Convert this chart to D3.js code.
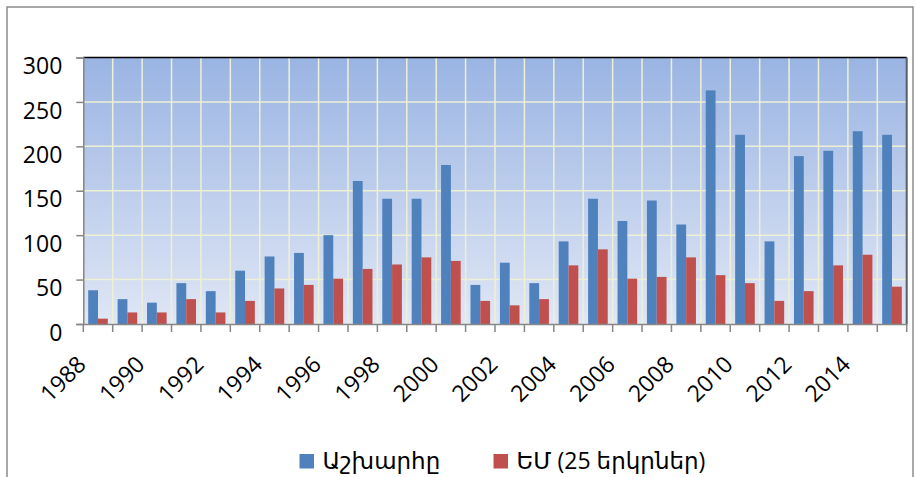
<!DOCTYPE html>
<meta charset="utf-8">
<script src="https://d3js.org/d3.v7.min.js"></script>
<style>
  body { margin: 0; background: #fff; }
  text { font-family: "Open Sans", "DejaVu Sans", sans-serif; fill: #000; }
</style>
<div id="chart"></div>
<script>
// Data
var years = d3.range(1988, 2016).map(String);
var seriesNames = ["Աշխարհը", "ԵՄ (25 երկրներ)"];
var world = [38, 28, 24, 46, 37, 60, 76, 80, 100, 161, 141, 141, 179, 44, 69, 46, 93, 141, 116, 139, 112, 263, 213, 93, 189, 195, 217, 213];
var eu    = [6, 13, 13, 28, 13, 26, 40, 44, 51, 62, 67, 75, 71, 26, 21, 28, 66, 84, 51, 53, 75, 55, 46, 26, 37, 66, 78, 42];
var yTicks = [0, 50, 100, 150, 200, 250, 300];
var colors = ["#4f81bd", "#c0504d"];

var W = 915, H = 477;
var plot = {left: 83.3, right: 906.7, top: 57.5, bottom: 324};

var svg = d3.select("#chart").append("svg")
    .attr("width", W)
    .attr("height", H);

// outer frame
svg.append("rect")
    .attr("x", 7).attr("y", 7)
    .attr("width", 906).attr("height", 520)
    .attr("fill", "none")
    .attr("stroke", "#8c8c8c")
    .attr("stroke-width", 1.5);

// background gradient
var grad = svg.append("defs").append("linearGradient")
    .attr("id", "bg")
    .attr("x1", 0).attr("y1", 0).attr("x2", 0).attr("y2", 1);
grad.append("stop").attr("offset", "0%").attr("stop-color", "#9ab4e3");
grad.append("stop").attr("offset", "100%").attr("stop-color", "#e0e7f5");

var x = d3.scaleBand()
    .domain(years)
    .range([plot.left, plot.right])
    .padding(0);

var bw = x.bandwidth();
var xs = d3.scaleBand()
    .domain([0, 1])
    .range([bw / 6, bw * 5 / 6]);

var y = d3.scaleLinear()
    .domain([0, 300])
    .range([plot.bottom, plot.top]);

svg.append("rect")
    .attr("x", plot.left).attr("y", plot.top)
    .attr("width", plot.right - plot.left)
    .attr("height", plot.bottom - plot.top)
    .attr("fill", "url(#bg)");

// grid lines
svg.append("g")
  .selectAll("line")
  .data(yTicks.filter(function(d) { return d > 0 && d < 300; }))
  .enter().append("line")
    .attr("x1", plot.left).attr("x2", plot.right)
    .attr("y1", function(d) { return y(d); })
    .attr("y2", function(d) { return y(d); })
    .attr("stroke", "#eef0d4")
    .attr("stroke-width", 1.5);

svg.append("g")
  .selectAll("line")
  .data(years.slice(1))
  .enter().append("line")
    .attr("x1", function(d) { return x(d); })
    .attr("x2", function(d) { return x(d); })
    .attr("y1", plot.top).attr("y2", plot.bottom)
    .attr("stroke", "#eef0d4")
    .attr("stroke-width", 1.5);

// bars
[world, eu].forEach(function(vals, s) {
  svg.append("g")
    .selectAll("rect")
    .data(vals)
    .enter().append("rect")
      .attr("x", function(d, i) { return x(years[i]) + xs(s); })
      .attr("y", function(d) { return y(d); })
      .attr("width", xs.bandwidth())
      .attr("height", function(d) { return y(0) - y(d); })
      .attr("fill", colors[s]);
});

// top and right border
svg.append("line")
    .attr("x1", plot.left).attr("x2", plot.right)
    .attr("y1", plot.top).attr("y2", plot.top)
    .attr("stroke", "#000").attr("stroke-width", 1.5);
svg.append("line")
    .attr("x1", plot.right).attr("x2", plot.right)
    .attr("y1", plot.top).attr("y2", plot.bottom)
    .attr("stroke", "#5a5f66").attr("stroke-width", 2);

// Y axis
var yAxis = svg.append("g")
    .attr("transform", "translate(" + plot.left + ",0)")
    .call(d3.axisLeft(y).tickValues(yTicks).tickSize(7).tickPadding(14));
yAxis.select(".domain").attr("stroke", "#868686").attr("stroke-width", 1.5);
yAxis.selectAll(".tick line").attr("stroke", "#868686").attr("stroke-width", 1.5);
yAxis.selectAll("text")
    .attr("dy", "0.7em")
    .style("font-size", "23px")
    .style("font-family", "'Open Sans', sans-serif");

// X axis
var xAxis = svg.append("g")
    .attr("transform", "translate(0," + plot.bottom + ")")
    .call(d3.axisBottom(x).tickSize(0).tickFormat(""));
xAxis.select(".domain").attr("stroke", "#868686").attr("stroke-width", 1.5);
xAxis.selectAll(".tick").remove();

svg.append("g")
  .selectAll("line")
  .data(years.concat(["end"]))
  .enter().append("line")
    .attr("x1", function(d) { return d === "end" ? plot.right : x(d); })
    .attr("x2", function(d) { return d === "end" ? plot.right : x(d); })
    .attr("y1", plot.bottom).attr("y2", plot.bottom + 8)
    .attr("stroke", "#868686").attr("stroke-width", 1.5);

svg.append("g")
  .selectAll("text")
  .data(years.filter(function(d, i) { return i % 2 === 0; }))
  .enter().append("text")
    .attr("transform", function(d) {
      return "translate(" + (x(d) + 4) + ",366)rotate(-45)";
    })
    .attr("text-anchor", "end")
    .style("font-size", "23px")
    .text(function(d) { return d; });

// Legend
var legend = svg.append("g");
var legX = [299.5, 493.5];
seriesNames.forEach(function(name, s) {
  legend.append("rect")
    .attr("x", legX[s]).attr("y", 454)
    .attr("width", 14.5).attr("height", 14.5)
    .attr("fill", colors[s]);
  legend.append("text")
    .attr("x", legX[s] + 23).attr("y", 468.5)
    .style("font-size", "23px")
    .text(name);
});
</script>
